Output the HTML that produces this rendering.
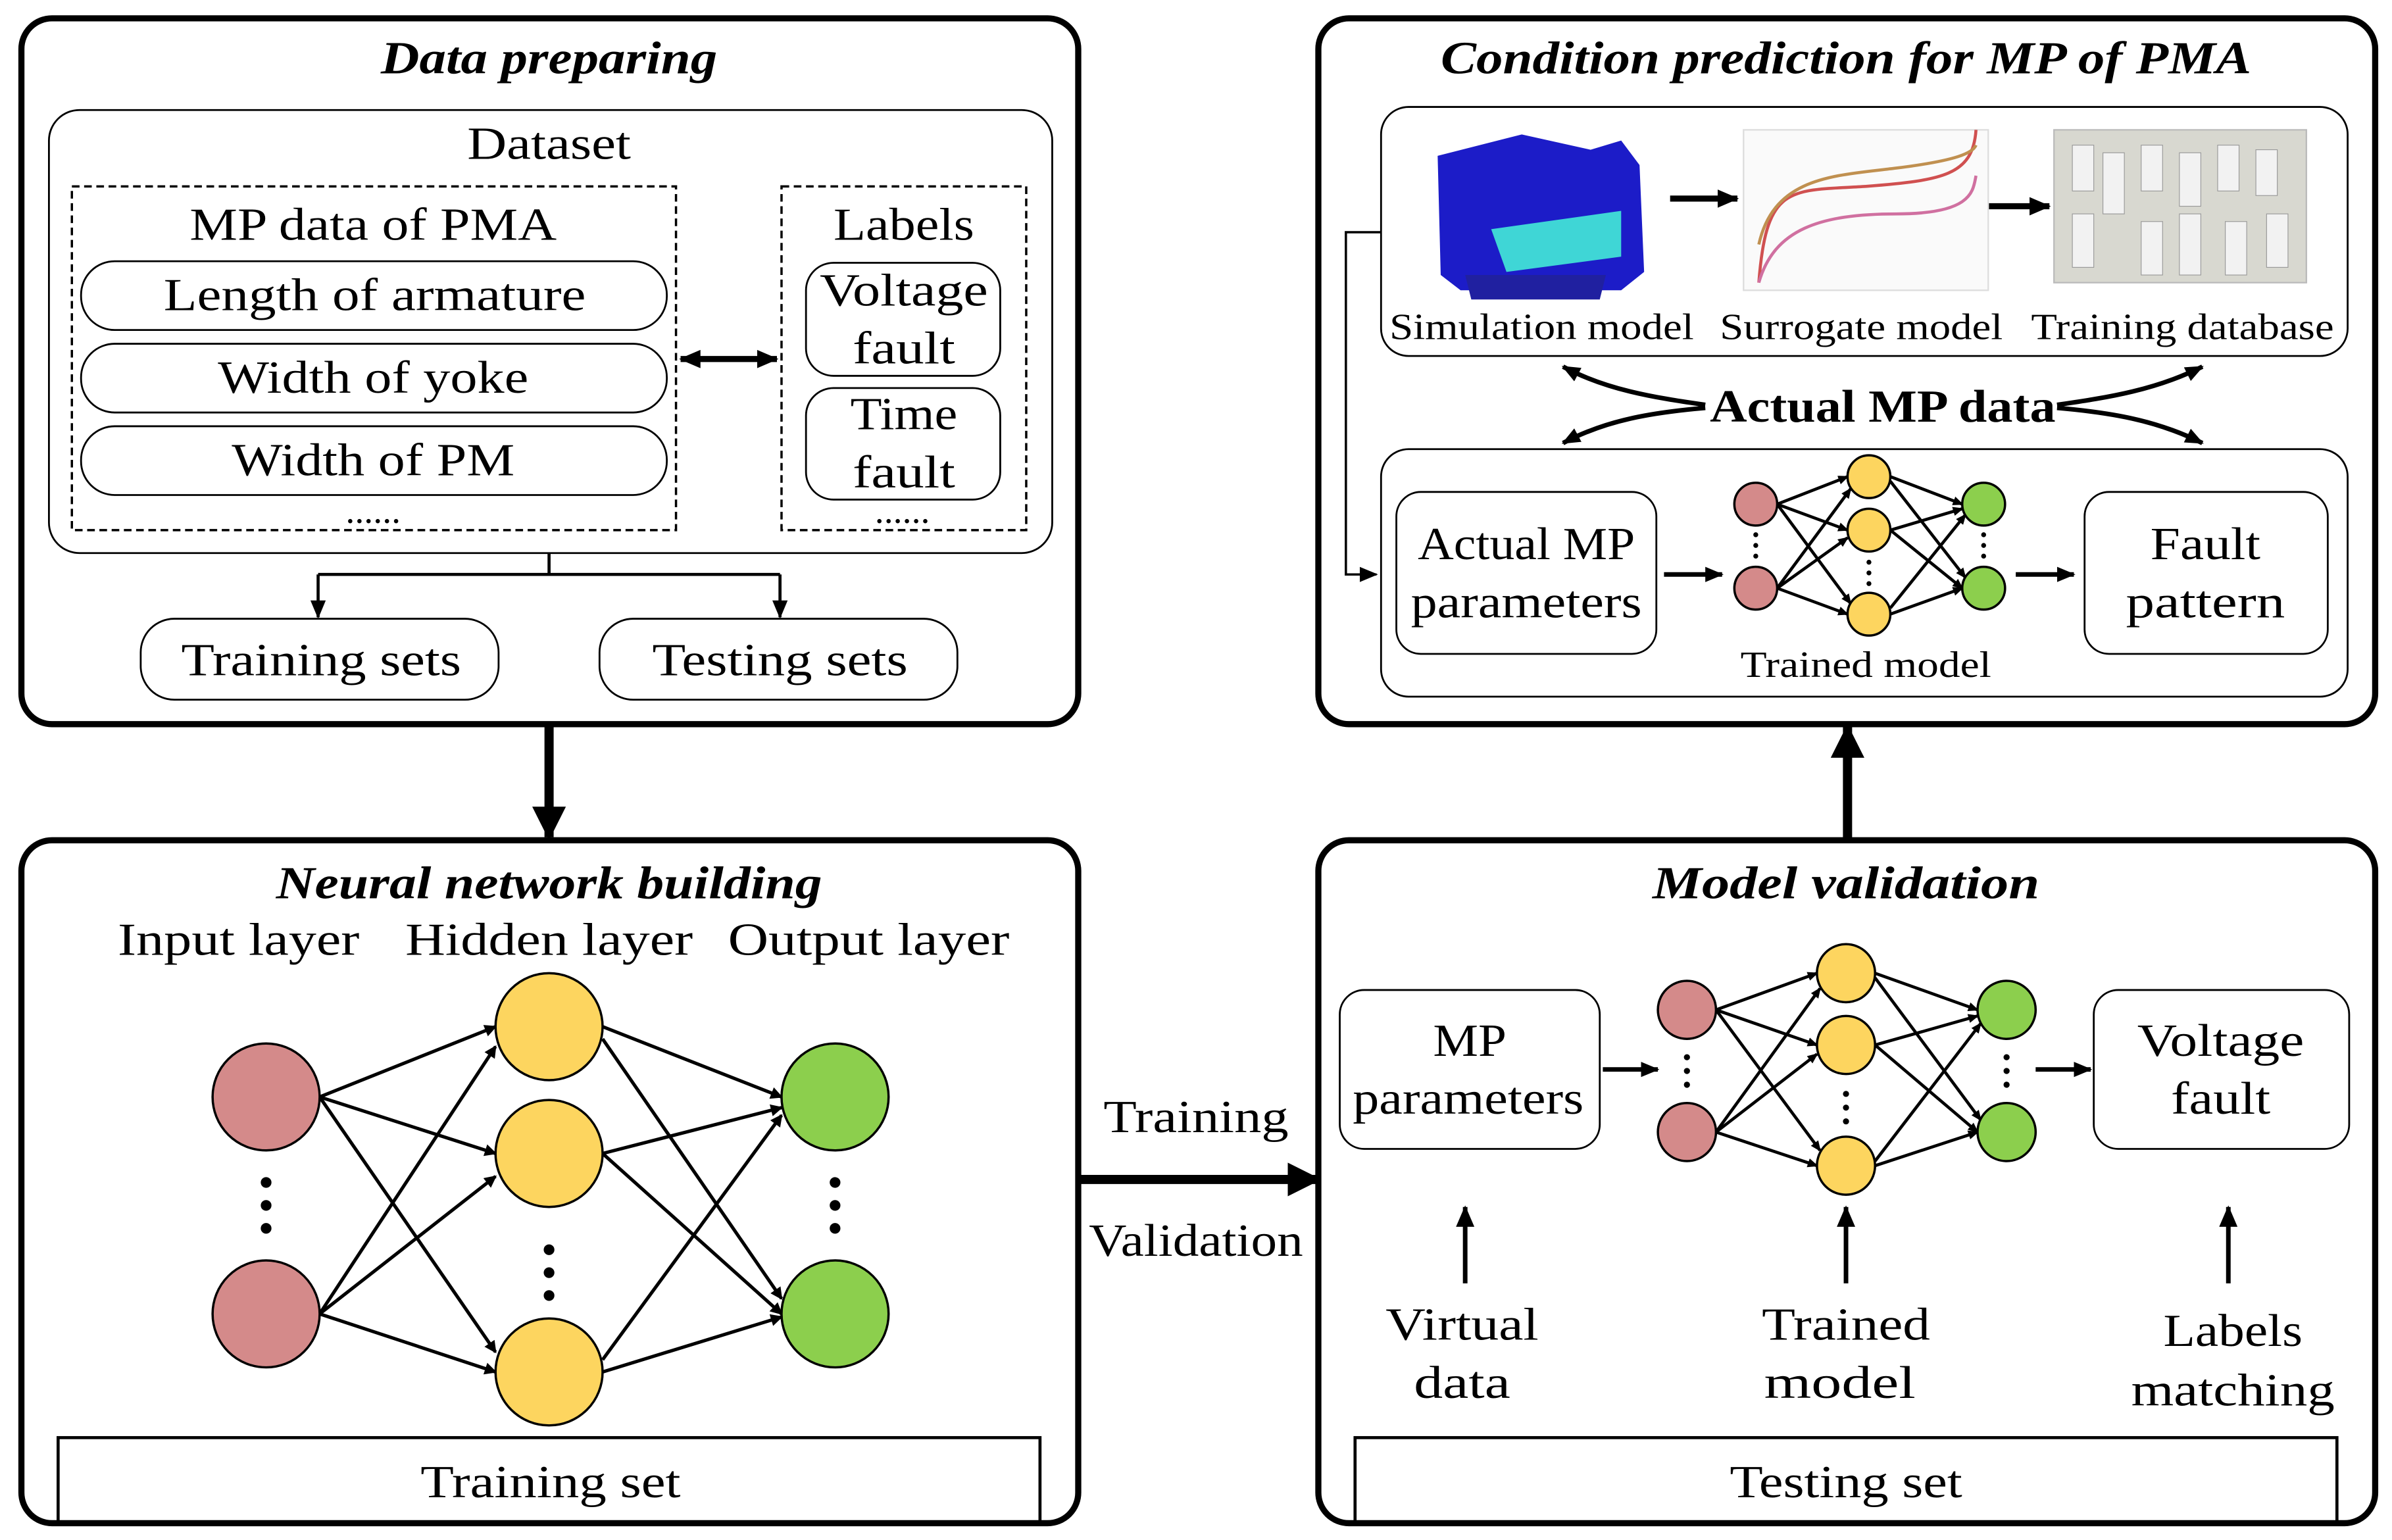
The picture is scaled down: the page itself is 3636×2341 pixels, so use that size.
<!DOCTYPE html>
<html><head><meta charset="utf-8"><style>html,body{margin:0;padding:0;background:#fff}svg{display:block}</style></head><body>
<svg width="3636" height="2341" viewBox="0 0 1564 1008" preserveAspectRatio="none" xmlns="http://www.w3.org/2000/svg" font-family="Liberation Serif, serif">
<defs>
<marker id="a" markerWidth="8" markerHeight="8" refX="7" refY="4" orient="auto" markerUnits="userSpaceOnUse" viewBox="0 0 8 8"><path d="M0,0 L8,4 L0,8 z"/></marker>
<marker id="am" markerWidth="14" markerHeight="12" refX="13" refY="6" orient="auto-start-reverse" markerUnits="userSpaceOnUse"><path d="M0,0 L14,6 L0,12 z"/></marker>
<marker id="ab" markerWidth="22" markerHeight="22" refX="20" refY="11" orient="auto" markerUnits="userSpaceOnUse"><path d="M0,0 L22,11 L0,22 z"/></marker>
<marker id="as" markerWidth="12" markerHeight="10" refX="11" refY="5" orient="auto" markerUnits="userSpaceOnUse"><path d="M0,0 L12,5 L0,10 z"/></marker>
<marker id="at" markerWidth="7" markerHeight="6" refX="6" refY="3" orient="auto" markerUnits="userSpaceOnUse"><path d="M0,0 L7,3 L0,6 z"/></marker>
</defs>
<g fill="none" stroke="#000">
<rect x="14" y="12" width="691" height="462" rx="20" stroke-width="4"/>
<rect x="14" y="550" width="691" height="447" rx="20" stroke-width="4"/>
<rect x="862" y="12" width="691" height="462" rx="20" stroke-width="4"/>
<rect x="862" y="550" width="691" height="447" rx="20" stroke-width="4"/>
<rect x="32" y="72" width="656" height="290" rx="20" stroke-width="1.2"/>
<rect x="47" y="122" width="395" height="225" stroke-width="1.5" stroke-dasharray="5,3"/>
<rect x="511" y="122" width="160" height="225" stroke-width="1.5" stroke-dasharray="5,3"/>
<rect x="53" y="171" width="383" height="45" rx="22" stroke-width="1.2"/>
<rect x="53" y="225" width="383" height="45" rx="22" stroke-width="1.2"/>
<rect x="53" y="279" width="383" height="45" rx="22" stroke-width="1.2"/>
<rect x="527" y="172" width="127" height="74" rx="18" stroke-width="1.2"/>
<rect x="527" y="254" width="127" height="73" rx="18" stroke-width="1.2"/>
<rect x="92" y="405" width="234" height="53" rx="22" stroke-width="1.2"/>
<rect x="392" y="405" width="234" height="53" rx="22" stroke-width="1.2"/>
<rect x="38" y="941" width="642" height="56" stroke-width="2"/>
<rect x="886" y="941" width="642" height="56" stroke-width="2"/>
<rect x="876" y="648" width="170" height="104" rx="16" stroke-width="1.2"/>
<rect x="1369" y="648" width="167" height="104" rx="16" stroke-width="1.2"/>
<rect x="903" y="70" width="632" height="163" rx="18" stroke-width="1.2"/>
<rect x="903" y="294" width="632" height="162" rx="18" stroke-width="1.2"/>
<rect x="913" y="322" width="170" height="106" rx="16" stroke-width="1.2"/>
<rect x="1363" y="322" width="159" height="106" rx="16" stroke-width="1.2"/>
<line x1="445" y1="235" x2="508" y2="235" stroke-width="4" marker-end="url(#am)" marker-start="url(#am)"/>
<path d="M359,362 V376 M208,376 H510" stroke-width="2"/>
<line x1="208" y1="376" x2="208" y2="404" stroke-width="2" marker-end="url(#as)"/>
<line x1="510" y1="376" x2="510" y2="404" stroke-width="2" marker-end="url(#as)"/>
<line x1="359" y1="474" x2="359" y2="548" stroke-width="6" marker-end="url(#ab)"/>
<line x1="705" y1="772" x2="862" y2="772" stroke-width="6" marker-end="url(#ab)"/>
<line x1="1208" y1="550" x2="1208" y2="476" stroke-width="6" marker-end="url(#ab)"/>
<line x1="958" y1="840" x2="958" y2="790" stroke-width="3" marker-end="url(#am)"/>
<line x1="1207" y1="840" x2="1207" y2="790" stroke-width="3" marker-end="url(#am)"/>
<line x1="1457" y1="840" x2="1457" y2="790" stroke-width="3" marker-end="url(#am)"/>
<line x1="1048" y1="700" x2="1084" y2="700" stroke-width="3" marker-end="url(#as)"/>
<line x1="1331" y1="700" x2="1367" y2="700" stroke-width="3" marker-end="url(#as)"/>
<line x1="1088" y1="376" x2="1126" y2="376" stroke-width="3" marker-end="url(#as)"/>
<line x1="1318" y1="376" x2="1356" y2="376" stroke-width="3" marker-end="url(#as)"/>
<line x1="1092" y1="130" x2="1136" y2="130" stroke-width="4" marker-end="url(#am)"/>
<line x1="1297" y1="135" x2="1340" y2="135" stroke-width="4" marker-end="url(#am)"/>
<path d="M903,152 H880 V376 H900" stroke-width="1.5" marker-end="url(#as)"/>
<path d="M1115,265 C1080,260 1050,255 1022,240" stroke-width="3" marker-end="url(#as)"/>
<path d="M1115,267 C1080,270 1050,275 1022,290" stroke-width="3" marker-end="url(#as)"/>
<path d="M1345,265 C1380,260 1410,255 1440,240" stroke-width="3" marker-end="url(#as)"/>
<path d="M1345,267 C1380,270 1410,275 1440,290" stroke-width="3" marker-end="url(#as)"/>
<g stroke-width="2.2">
<line x1="209" y1="718" x2="324" y2="672" marker-end="url(#a)"/>
<line x1="209" y1="718" x2="324" y2="755" marker-end="url(#a)"/>
<line x1="209" y1="718" x2="324" y2="885" marker-end="url(#a)"/>
<line x1="209" y1="860" x2="324" y2="685" marker-end="url(#a)"/>
<line x1="209" y1="860" x2="324" y2="770" marker-end="url(#a)"/>
<line x1="209" y1="860" x2="324" y2="898" marker-end="url(#a)"/>
<line x1="394" y1="672" x2="511" y2="718" marker-end="url(#a)"/>
<line x1="394" y1="680" x2="511" y2="850" marker-end="url(#a)"/>
<line x1="394" y1="755" x2="511" y2="725" marker-end="url(#a)"/>
<line x1="394" y1="755" x2="511" y2="860" marker-end="url(#a)"/>
<line x1="394" y1="890" x2="511" y2="730" marker-end="url(#a)"/>
<line x1="394" y1="898" x2="511" y2="862" marker-end="url(#a)"/>
</g>
<g stroke-width="2">
<line x1="1122" y1="661" x2="1188" y2="637" marker-end="url(#at)"/>
<line x1="1122" y1="661" x2="1188" y2="684" marker-end="url(#at)"/>
<line x1="1122" y1="661" x2="1190" y2="753" marker-end="url(#at)"/>
<line x1="1122" y1="741" x2="1190" y2="647" marker-end="url(#at)"/>
<line x1="1122" y1="741" x2="1188" y2="690" marker-end="url(#at)"/>
<line x1="1122" y1="741" x2="1188" y2="763" marker-end="url(#at)"/>
<line x1="1226" y1="637" x2="1293" y2="661" marker-end="url(#at)"/>
<line x1="1226" y1="640" x2="1295" y2="733" marker-end="url(#at)"/>
<line x1="1226" y1="684" x2="1293" y2="665" marker-end="url(#at)"/>
<line x1="1226" y1="684" x2="1293" y2="741" marker-end="url(#at)"/>
<line x1="1226" y1="760" x2="1295" y2="670" marker-end="url(#at)"/>
<line x1="1226" y1="763" x2="1293" y2="741" marker-end="url(#at)"/>
<line x1="1162" y1="330" x2="1208" y2="312" marker-end="url(#at)"/>
<line x1="1162" y1="330" x2="1208" y2="347" marker-end="url(#at)"/>
<line x1="1162" y1="330" x2="1210" y2="395" marker-end="url(#at)"/>
<line x1="1162" y1="385" x2="1210" y2="320" marker-end="url(#at)"/>
<line x1="1162" y1="385" x2="1208" y2="352" marker-end="url(#at)"/>
<line x1="1162" y1="385" x2="1208" y2="402" marker-end="url(#at)"/>
<line x1="1236" y1="312" x2="1283" y2="330" marker-end="url(#at)"/>
<line x1="1236" y1="315" x2="1285" y2="378" marker-end="url(#at)"/>
<line x1="1236" y1="347" x2="1283" y2="333" marker-end="url(#at)"/>
<line x1="1236" y1="347" x2="1283" y2="385" marker-end="url(#at)"/>
<line x1="1236" y1="398" x2="1285" y2="337" marker-end="url(#at)"/>
<line x1="1236" y1="402" x2="1283" y2="385" marker-end="url(#at)"/>
</g>
</g>
<g stroke="#000" stroke-width="1.5">
<circle cx="174" cy="718" r="35" fill="#d48a8a"/><circle cx="174" cy="860" r="35" fill="#d48a8a"/>
<circle cx="359" cy="672" r="35" fill="#fdd55f"/><circle cx="359" cy="755" r="35" fill="#fdd55f"/><circle cx="359" cy="898" r="35" fill="#fdd55f"/>
<circle cx="546" cy="718" r="35" fill="#8ccf4d"/><circle cx="546" cy="860" r="35" fill="#8ccf4d"/>
<circle cx="1103" cy="661" r="19" fill="#d48a8a"/><circle cx="1103" cy="741" r="19" fill="#d48a8a"/>
<circle cx="1207" cy="637" r="19" fill="#fdd55f"/><circle cx="1207" cy="684" r="19" fill="#fdd55f"/><circle cx="1207" cy="763" r="19" fill="#fdd55f"/>
<circle cx="1312" cy="661" r="19" fill="#8ccf4d"/><circle cx="1312" cy="741" r="19" fill="#8ccf4d"/>
<circle cx="1148" cy="330" r="14" fill="#d48a8a"/><circle cx="1148" cy="385" r="14" fill="#d48a8a"/>
<circle cx="1222" cy="312" r="14" fill="#fdd55f"/><circle cx="1222" cy="347" r="14" fill="#fdd55f"/><circle cx="1222" cy="402" r="14" fill="#fdd55f"/>
<circle cx="1297" cy="330" r="14" fill="#8ccf4d"/><circle cx="1297" cy="385" r="14" fill="#8ccf4d"/>
</g>
<g fill="#000">
<circle cx="174" cy="774" r="3.5"/><circle cx="174" cy="789" r="3.5"/><circle cx="174" cy="804" r="3.5"/>
<circle cx="546" cy="774" r="3.5"/><circle cx="546" cy="789" r="3.5"/><circle cx="546" cy="804" r="3.5"/>
<circle cx="359" cy="818" r="3.5"/><circle cx="359" cy="833" r="3.5"/><circle cx="359" cy="848" r="3.5"/>
<circle cx="1103" cy="692" r="2"/><circle cx="1103" cy="701" r="2"/><circle cx="1103" cy="710" r="2"/>
<circle cx="1312" cy="692" r="2"/><circle cx="1312" cy="701" r="2"/><circle cx="1312" cy="710" r="2"/>
<circle cx="1207" cy="716" r="2"/><circle cx="1207" cy="725" r="2"/><circle cx="1207" cy="734" r="2"/>
<circle cx="1148" cy="350" r="1.6"/><circle cx="1148" cy="357" r="1.6"/><circle cx="1148" cy="364" r="1.6"/>
<circle cx="1297" cy="350" r="1.6"/><circle cx="1297" cy="357" r="1.6"/><circle cx="1297" cy="364" r="1.6"/>
<circle cx="1222" cy="368" r="1.6"/><circle cx="1222" cy="375" r="1.6"/><circle cx="1222" cy="382" r="1.6"/>
</g>
<g>
<path d="M940,102 L995,88 L1040,98 L1060,92 L1072,108 L1075,178 L1060,190 L955,190 L942,180 Z" fill="#1c1cc8"/>
<path d="M975,150 L1060,138 L1060,168 L985,178 Z" fill="#3fd6d6"/>
<path d="M958,180 L1050,180 L1046,196 L962,196 Z" fill="#2020a0"/>
<rect x="1140" y="85" width="160" height="105" fill="#fafafa" stroke="#ddd"/>
<path d="M1150,185 C1155,120 1170,125 1220,122 C1270,118 1290,115 1292,85" stroke="#d05050" fill="none" stroke-width="2"/>
<path d="M1150,160 C1160,115 1200,115 1240,110 C1280,105 1290,100 1292,95" stroke="#c09050" fill="none" stroke-width="2"/>
<path d="M1150,185 C1160,150 1190,140 1240,140 C1290,140 1290,125 1292,115" stroke="#d070a0" fill="none" stroke-width="2"/>
<rect x="1343" y="85" width="165" height="100" fill="#d8d8d0" stroke="#bbb"/>
<g fill="#f2f2f2" stroke="#999" stroke-width="0.5">
<rect x="1355" y="95" width="14" height="30"/><rect x="1375" y="100" width="14" height="40"/><rect x="1400" y="95" width="14" height="30"/><rect x="1425" y="100" width="14" height="35"/><rect x="1450" y="95" width="14" height="30"/><rect x="1475" y="98" width="14" height="30"/>
<rect x="1355" y="140" width="14" height="35"/><rect x="1400" y="145" width="14" height="35"/><rect x="1425" y="140" width="14" height="40"/><rect x="1455" y="145" width="14" height="35"/><rect x="1482" y="140" width="14" height="35"/>
</g>
</g>
<g font-size="30" font-weight="bold" font-style="italic" text-anchor="middle" lengthAdjust="spacingAndGlyphs">
<text x="359" y="48" textLength="220" lengthAdjust="spacingAndGlyphs">Data preparing</text>
<text x="1207" y="48" textLength="530" lengthAdjust="spacingAndGlyphs">Condition prediction for MP of PMA</text>
<text x="359" y="588" textLength="357" lengthAdjust="spacingAndGlyphs">Neural network building</text>
<text x="1207" y="588" textLength="253" lengthAdjust="spacingAndGlyphs">Model validation</text>
</g>
<g font-size="30" text-anchor="middle">
<text x="359" y="104" textLength="107" lengthAdjust="spacingAndGlyphs">Dataset</text>
<text x="244" y="157" textLength="240" lengthAdjust="spacingAndGlyphs">MP data of PMA</text>
<text x="591" y="157" textLength="92" lengthAdjust="spacingAndGlyphs">Labels</text>
<text x="245" y="203" textLength="276" lengthAdjust="spacingAndGlyphs">Length of armature</text>
<text x="244" y="257" textLength="203" lengthAdjust="spacingAndGlyphs">Width of yoke</text>
<text x="244" y="311" textLength="185" lengthAdjust="spacingAndGlyphs">Width of PM</text>
<text x="244" y="342" font-size="24">......</text>
<text x="590" y="342" font-size="24">......</text>
<text x="591" y="200" textLength="110" lengthAdjust="spacingAndGlyphs">Voltage</text><text x="591" y="238" textLength="67" lengthAdjust="spacingAndGlyphs">fault</text>
<text x="591" y="281" textLength="70" lengthAdjust="spacingAndGlyphs">Time</text><text x="591" y="319" textLength="67" lengthAdjust="spacingAndGlyphs">fault</text>
<text x="210" y="442" textLength="183" lengthAdjust="spacingAndGlyphs">Training sets</text>
<text x="510" y="442" textLength="167" lengthAdjust="spacingAndGlyphs">Testing sets</text>
<text x="156" y="625" textLength="158" lengthAdjust="spacingAndGlyphs">Input layer</text>
<text x="359" y="625" textLength="188" lengthAdjust="spacingAndGlyphs">Hidden layer</text>
<text x="568" y="625" textLength="184" lengthAdjust="spacingAndGlyphs">Output layer</text>
<text x="360" y="980" textLength="170" lengthAdjust="spacingAndGlyphs">Training set</text>
<text x="1207" y="980" textLength="152" lengthAdjust="spacingAndGlyphs">Testing set</text>
<text x="782" y="741" textLength="121" lengthAdjust="spacingAndGlyphs">Training</text>
<text x="782" y="822" textLength="140" lengthAdjust="spacingAndGlyphs">Validation</text>
<text x="961" y="691" textLength="48" lengthAdjust="spacingAndGlyphs">MP</text><text x="960" y="729" textLength="151" lengthAdjust="spacingAndGlyphs">parameters</text>
<text x="1452" y="691" textLength="109" lengthAdjust="spacingAndGlyphs">Voltage</text><text x="1452" y="729" textLength="65" lengthAdjust="spacingAndGlyphs">fault</text>
<text x="956" y="877" textLength="100" lengthAdjust="spacingAndGlyphs">Virtual</text><text x="956" y="915" textLength="63" lengthAdjust="spacingAndGlyphs">data</text>
<text x="1207" y="877" textLength="110" lengthAdjust="spacingAndGlyphs">Trained</text><text x="1203" y="915" textLength="99" lengthAdjust="spacingAndGlyphs">model</text>
<text x="1460" y="881" textLength="91" lengthAdjust="spacingAndGlyphs">Labels</text><text x="1460" y="920" textLength="133" lengthAdjust="spacingAndGlyphs">matching</text>
<text x="998" y="366" textLength="142" lengthAdjust="spacingAndGlyphs">Actual MP</text><text x="998" y="404" textLength="151" lengthAdjust="spacingAndGlyphs">parameters</text>
<text x="1442" y="366" textLength="72" lengthAdjust="spacingAndGlyphs">Fault</text><text x="1442" y="404" textLength="104" lengthAdjust="spacingAndGlyphs">pattern</text>
<text x="1231" y="276" font-weight="bold" textLength="226" lengthAdjust="spacingAndGlyphs">Actual MP data</text>
</g>
<g font-size="24" text-anchor="middle">
<text x="1008" y="222" textLength="199" lengthAdjust="spacingAndGlyphs">Simulation model</text>
<text x="1217" y="222" textLength="185" lengthAdjust="spacingAndGlyphs">Surrogate model</text>
<text x="1427" y="222" textLength="198" lengthAdjust="spacingAndGlyphs">Training database</text>
<text x="1220" y="443" textLength="164" lengthAdjust="spacingAndGlyphs">Trained model</text>
</g>
</svg>
</body></html>
